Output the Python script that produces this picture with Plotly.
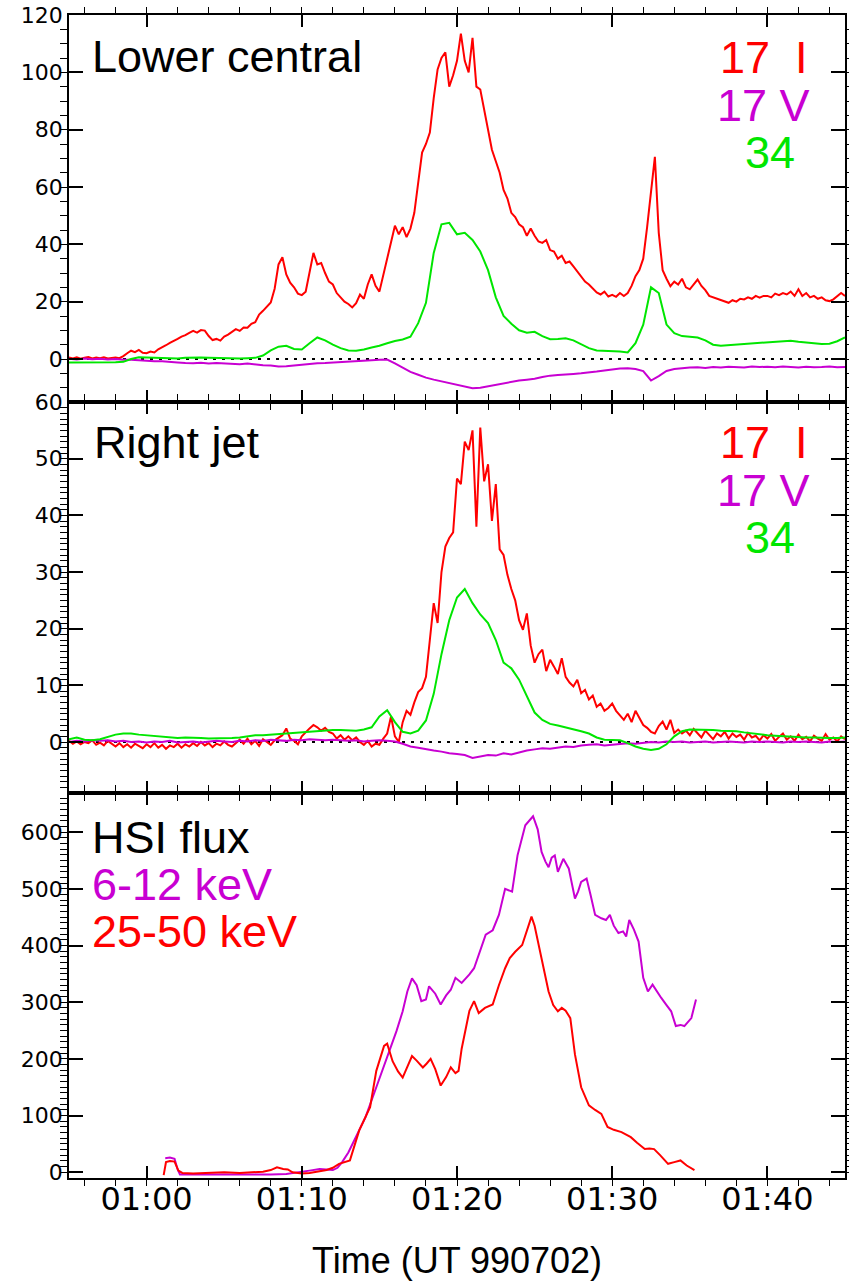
import numpy as np
import plotly.graph_objects as go

# ---------------- data ----------------
# sampling: minutes after 00:00 UT (01:00 = 60)
T0 = 55.0
DT_FINE = 0.25
DT_COARSE = 0.5

# Lower central, 17 GHz I (0.25 min sampling)
lc_17I = [
    0.5, 0.2, 0.6, 0.1, 0.4, 0.7, 0.2, 0.5,
    0.3, 0.6, 0.2, 0.4, 0.5, 0.3, 1.0, 2.0,
    2.9, 2.4, 3.2, 2.2, 2.0, 2.6, 2.3, 3.4,
    4.0, 4.8, 5.6, 6.2, 7.0, 7.8, 8.3, 9.1,
    9.8, 9.2, 10.1, 9.9, 8.0, 6.6, 7.0, 6.4,
    7.8, 8.5, 9.6, 10.4, 9.8, 11.0, 10.9, 12.3,
    12.8, 15.5, 16.8, 18.4, 19.7, 24.5, 33.0, 35.5,
    29.5, 26.6, 25.0, 22.8, 22.3, 23.5, 30.5, 37.0,
    33.0, 33.5, 30.0, 27.0, 26.0, 23.0, 21.5, 20.0,
    19.2, 18.0, 19.5, 22.5, 21.0, 26.0, 29.5, 25.5,
    23.5, 29.0, 34.5, 41.0, 46.5, 43.5, 46.0, 42.5,
    45.5, 51.0, 62.0, 72.0, 75.0, 79.0, 91.0, 101.0,
    105.0, 107.0, 95.0, 99.0, 104.0, 113.5, 104.0, 100.0,
    112.0, 95.0, 94.0, 87.0, 79.0, 73.0, 69.0, 65.0,
    59.0, 56.0, 51.0, 49.5, 47.0, 46.0, 43.0, 45.5,
    43.0, 41.0, 40.5, 41.5, 38.0, 37.5, 35.0, 36.0,
    33.5, 34.0, 32.3, 30.5, 29.0, 27.0, 26.0, 24.5,
    23.2, 22.5, 23.5, 21.8, 22.4, 21.7, 23.0, 22.0,
    23.0, 25.5, 28.9, 31.0, 35.0, 46.0, 58.0, 70.5,
    44.0, 31.0, 28.0, 25.4, 27.0, 26.0, 28.0, 25.0,
    24.3, 26.0, 27.7, 25.5, 24.0, 22.0, 21.5, 21.0,
    20.5, 20.0, 19.6, 20.5, 20.0, 21.0, 20.8, 21.5,
    21.0, 22.0, 21.4, 22.0, 22.0, 21.5, 22.8, 22.3,
    23.0, 22.5, 23.5, 22.0, 24.3, 22.0, 23.0, 21.5,
    22.0, 21.0, 21.5, 20.5, 20.2, 20.8, 22.0, 23.0,
    22.0,
]
# Lower central, 17 GHz V (0.5 min sampling)
lc_17V = [
    0.1, -0.2, 0.2, -0.1, 0.1, -0.2, 0.0, -0.3, -0.3, -0.5,
    -0.5, -0.8, -0.8, -1.1, -1.2, -1.4, -1.5, -1.3, -1.6, -1.4,
    -1.5, -1.7, -1.8, -1.6, -2.0, -2.2, -2.3, -2.6, -2.5, -2.2,
    -2.0, -1.8, -1.5, -1.4, -1.2, -1.0, -0.8, -0.7, -0.6, -0.4,
    -0.3, -0.2, -1.5, -3.0, -4.5, -5.5, -6.5, -7.2, -7.8, -8.3,
    -9.0, -9.6, -10.2, -10.0, -9.5, -8.9, -8.5, -8.0, -7.5, -7.2,
    -6.9, -6.3, -5.8, -5.6, -5.3, -5.2, -5.0, -4.8, -4.4, -4.0,
    -3.6, -3.3, -3.2, -3.5, -4.2, -7.5, -6.0, -4.2, -3.5, -3.2,
    -3.0, -2.9, -3.1, -2.8, -3.0, -2.7, -2.9, -3.0, -2.6, -2.8,
    -2.7, -2.9, -2.6, -2.8, -3.0, -2.7, -2.9, -2.8, -2.6, -2.9,
    -2.8,
]
# Lower central, 34 GHz (0.5 min sampling)
lc_34 = [
    -1.2, -1.2, -1.1, -1.2, -1.3, -1.2, -1.1, -1.0, 0.0, 0.6,
    0.5, 0.4, 0.3, 0.2, 0.2, 0.4, 0.5, 0.5, 0.4, 0.3,
    0.3, 0.2, 0.2, 0.3, 0.4, 1.2, 3.0, 4.3, 4.6, 3.5,
    3.3, 5.5, 7.5, 6.5, 5.0, 3.8, 3.0, 2.9, 3.3, 4.0,
    4.6, 5.5, 6.3, 6.8, 7.8, 12.5, 19.6, 37.0, 47.0, 47.5,
    43.5, 44.0, 41.5, 37.5, 31.0, 21.5, 15.0, 12.3, 10.0, 9.2,
    9.5, 8.0, 6.9, 7.0, 7.2, 6.5, 5.2, 3.8, 3.0, 2.9,
    2.8, 2.6, 2.3, 5.5, 12.0, 25.0, 23.0, 12.0, 9.0, 8.0,
    7.8, 7.5, 6.5, 5.0, 4.6, 4.8, 5.0, 5.2, 5.5, 5.6,
    5.8, 6.0, 6.2, 6.4, 6.0, 5.8, 5.5, 5.2, 5.3, 6.2,
    7.5,
]
# Right jet, 17 GHz I (0.25 min sampling)
rj_17I = [
    0.2, -0.3, 0.1, -0.4, 0.0, -0.2, 0.3, -0.5,
    -0.1, -0.6, 0.2, -0.3, -0.8, -0.2, -0.9, -0.4,
    -1.0, -0.3, -0.7, -1.1, -0.4, -0.9, -0.2, -1.0,
    -0.5, -1.2, -0.6, -0.9, -0.3, -1.0, -0.4, -0.8,
    -0.2, -0.7, 0.0, -0.6, -0.2, -0.9, -0.3, -0.6,
    0.1, -0.5, -0.8, -0.2, 0.4, -0.3, 0.6, -0.4,
    0.2, -0.7, 0.5, 0.0, -0.5, 0.3, 0.8, 1.2,
    2.4, 0.6, 0.2, -0.4, 1.0, 1.8, 2.4, 3.0,
    2.6, 2.0, 2.5, 1.8, 1.5, 0.6, 1.2, 0.4,
    1.0, 0.3, 0.8, 0.0, -0.5, 0.2, -0.8, -0.3,
    -0.5, 0.6, 1.5, 4.5, 1.0, 0.0, 3.5, 5.5,
    4.8, 7.0, 8.8, 9.5, 11.5, 18.0, 24.5, 21.0,
    30.0, 34.5, 36.0, 37.0, 46.5, 45.5, 53.0, 51.5,
    55.0, 38.0, 55.5, 46.0, 49.0, 39.0, 45.5, 34.0,
    33.0, 29.5, 27.0, 25.0, 21.5, 19.8, 22.7, 17.0,
    14.0, 15.5, 16.3, 12.5, 14.5, 13.3, 12.0, 14.8,
    11.5, 10.5, 9.8, 11.0, 8.6, 9.2, 7.5, 8.2,
    6.2, 6.8, 5.5, 6.0, 6.8, 5.5, 4.6, 3.9,
    5.0, 3.5, 5.5, 4.2, 3.0, 2.5, 1.8, 1.5,
    2.8, 3.6, 2.2, 3.9, 1.6, 2.2, 1.5, 2.0,
    1.2, 2.3, 1.6, 0.8, 2.0, 1.2, 0.5, 1.5,
    1.0, 1.8, 0.6, 1.5, 0.9, 1.3, 0.4, 1.6,
    0.8, 1.1, 0.3, 1.2, 0.6, 1.4, 0.2, 0.9,
    1.5, 0.4, 1.0, 0.2, 1.3, 0.5, 0.9, 0.1,
    1.1, 0.6, 0.2, 1.4, 0.4, 0.8, 0.1, 1.0,
    0.5,
]
# Right jet, 17 GHz V (0.5 min sampling)
rj_17V = [
    0.0, 0.2, 0.1, 0.3, 0.2, 0.3, 0.1, 0.2, 0.0, 0.1,
    -0.1, 0.1, 0.0, 0.2, -0.1, 0.0, 0.1, -0.1, 0.0, 0.2,
    0.1, 0.0, 0.2, 0.1, 0.3, 0.2, 0.4, 0.3, 0.2, 0.4,
    0.3, 0.5, 0.4, 0.3, 0.4, 0.3, 0.2, 0.3, 0.1, 0.2,
    0.3, 0.2, 0.1, -0.3, -0.8, -1.0, -1.3, -1.5, -1.7, -2.0,
    -2.1, -2.3, -2.8, -2.6, -2.3, -2.4, -2.0, -2.2, -1.8, -1.5,
    -1.3, -1.1, -1.2, -1.0, -0.8, -0.9, -0.6, -0.5, -0.4, -0.6,
    -0.5, -0.3, -0.2, -0.3, -0.1, 0.0, -0.1, 0.1, 0.0, 0.1,
    -0.1, 0.0, 0.1, -0.1, 0.0, 0.1, 0.0, -0.1, 0.1, 0.0,
    0.1, 0.0, -0.1, 0.1, 0.0, 0.1, 0.0, -0.1, 0.1, 0.0,
    0.1,
]
# Right jet, 34 GHz (0.5 min sampling)
rj_34 = [
    0.5, 0.8, 0.4, 0.3, 0.5, 0.9, 1.3, 1.5, 1.5, 1.3,
    1.2, 1.0, 0.9, 0.8, 0.7, 0.8, 0.8, 0.7, 0.6, 0.6,
    0.6, 0.7, 0.8, 1.0, 1.2, 1.2, 1.3, 1.4, 1.5, 1.6,
    1.8, 1.9, 2.0, 2.1, 2.1, 2.1, 2.0, 2.0, 2.2, 2.6,
    4.5, 5.6, 3.5, 1.8, 1.5, 2.0, 3.8, 8.5, 15.5, 21.5,
    25.5, 27.0, 24.5, 22.5, 21.0, 18.0, 14.0, 13.0, 11.0, 8.0,
    5.2, 3.9, 3.2, 2.9, 2.6, 2.3, 1.9, 1.5, 0.8, 0.4,
    0.4, 0.3, -0.2, -0.8, -1.2, -1.4, -1.2, -0.4, 1.0, 1.9,
    2.2, 2.2, 2.1, 2.1, 2.0, 2.0, 1.9, 1.7, 1.5, 1.3,
    1.2, 1.1, 1.0, 0.9, 0.9, 0.8, 0.8, 0.7, 0.7, 0.7,
    0.8,
]
# HSI flux 6-12 keV
hsi_lo_t = [61.2, 61.5, 61.8, 62.0, 62.15, 63.0, 64.0, 65.0, 66.0, 67.0,
            68.0, 69.0, 69.9, 70.5, 71.15, 72.0, 72.3, 72.6, 73.0, 73.5,
            74.1, 74.8, 75.4, 76.1, 76.5, 76.8, 77.1, 77.4, 77.7, 78.0,
            78.2, 78.6, 78.95, 79.3, 79.6, 79.9, 80.3, 80.8, 81.1, 81.4,
            81.85, 82.3, 82.7, 83.1, 83.55, 83.9, 84.4, 84.9, 85.2, 85.45,
            85.7, 85.9, 86.1, 86.3, 86.5, 86.85, 87.2, 87.6, 87.8, 88.0,
            88.35, 88.6, 88.9, 89.3, 89.6, 89.85, 90.1, 90.4, 90.7, 90.9,
            91.1, 91.4, 91.7, 92.0, 92.3, 92.6, 92.9, 93.15, 93.5, 93.8,
            94.1, 94.4, 94.65, 94.9, 95.1, 95.4]
hsi_lo = [25, 26, 24, 5, -4, -4, -5, -5, -4, -4,
          -4, -3, 0, 3, 6, 4, 8, 18, 35, 62,
          97, 150, 196, 249, 284, 319, 342, 330, 302, 305,
          328, 315, 296, 312, 322, 343, 334, 349, 360, 384,
          419, 427, 454, 500, 495, 559, 612, 628, 605, 565,
          548, 538, 555, 559, 530, 553, 536, 483, 495, 512,
          518, 490, 454, 448, 445, 454, 435, 422, 425, 416,
          445, 428, 407, 343, 319, 331, 318, 308, 295, 284,
          258, 260, 258, 265, 272, 305]
# HSI flux 25-50 keV
hsi_hi_t = [61.1, 61.25, 61.5, 61.8, 62.05, 62.3, 63.0, 64.0, 65.0, 66.0,
            67.0, 67.5, 68.0, 68.4, 68.8, 69.1, 69.4, 70.0, 70.5, 71.0,
            71.6, 72.0, 72.4, 73.1, 73.5, 73.7, 74.4, 74.8, 75.3, 75.5,
            75.85, 76.2, 76.5, 76.8, 77.1, 77.4, 77.8, 78.05, 78.3, 78.6,
            78.95, 79.3, 79.6, 79.9, 80.1, 80.3, 80.55, 80.8, 81.1, 81.4,
            81.8, 82.3, 82.7, 83.1, 83.4, 83.75, 84.2, 84.5, 84.8, 85.0,
            85.3, 85.6, 85.9, 86.2, 86.5, 86.75, 87.0, 87.3, 87.6, 88.0,
            88.5, 88.9, 89.3, 89.7, 90.1, 90.6, 91.2, 91.6, 92.1, 92.4,
            92.7, 93.1, 93.6, 94.0, 94.4, 94.8, 95.3]
hsi_hi = [-5, 18, 20, 19, 3, -1, -2, -1, 0, -1,
          0, 1, 4, 9, 6, 5, 0, -2, -1, 1,
          4, 8, 15, 21, 55, 74, 115, 179, 223, 227,
          196, 178, 167, 185, 205, 197, 185, 192, 200, 182,
          153, 168, 185, 175, 179, 218, 255, 285, 302, 281,
          290, 296, 330, 360, 378, 389, 401, 425, 451, 435,
          395, 355, 319, 295, 284, 290, 285, 272, 208, 150,
          118, 110, 103, 80, 75, 71, 62, 52, 41, 42,
          41, 30, 15, 18, 21, 12, 4]

x_tick_vals = [60, 70, 80, 90, 100]
x_tick_text = ["01:00", "01:10", "01:20", "01:30", "01:40"]
x_range = [55, 105]

# ---------------- styling ----------------
RED = "rgb(255,0,0)"
MAG = "rgb(200,0,210)"
GRN = "rgb(0,230,0)"
LW = 2

W, H = 849, 1281
ML, MR, MT, MB = 69, 2, 15, 103
PW = W - ML - MR
PH = H - MT - MB


def px(x):
    return (x - ML) / PW


def py(y):
    return (H - MB - y) / PH


d1 = [py(402), 1.0]
d2 = [py(793), py(402)]
d3 = [0.0, py(793)]


def tgrid(vals, dt):
    return T0 + dt * np.arange(len(vals))


fig = go.Figure()


def line(x, y, color, n, dash=None, width=LW):
    fig.add_trace(go.Scatter(
        x=x, y=y, mode="lines",
        line=dict(color=color, width=width, dash=dash),
        xaxis="x" if n == 1 else f"x{n}",
        yaxis="y" if n == 1 else f"y{n}",
        showlegend=False, hoverinfo="skip"))


# panel 1
line(x_range, [0, 0], "black", 1, dash="3px,6px", width=2)
line(tgrid(lc_17I, DT_FINE), lc_17I, RED, 1)
line(tgrid(lc_17V, DT_COARSE), lc_17V, MAG, 1)
line(tgrid(lc_34, DT_COARSE), lc_34, GRN, 1)
# panel 2
line(x_range, [0, 0], "black", 2, dash="3px,6px", width=2)
line(tgrid(rj_17I, DT_FINE), rj_17I, RED, 2)
line(tgrid(rj_17V, DT_COARSE), rj_17V, MAG, 2)
line(tgrid(rj_34, DT_COARSE), rj_34, GRN, 2)
# panel 3
line(hsi_lo_t, hsi_lo, MAG, 3)
line(hsi_hi_t, hsi_hi, RED, 3)

tick_font_y = dict(family="DejaVu Sans", size=22, color="black")
tick_font_x = dict(family="DejaVu Sans", size=32, color="black")


def xaxis(anchor, labels):
    return dict(
        domain=[0, 1], anchor=anchor, range=x_range,
        showline=True, linecolor="black", linewidth=1.8, mirror="allticks",
        ticks="inside", ticklen=12, tickwidth=1.5, tickcolor="black",
        tickmode="array", tickvals=x_tick_vals, ticktext=x_tick_text,
        showticklabels=labels, tickfont=tick_font_x, ticklabelstandoff=-8,
        showgrid=False, zeroline=False,
        minor=dict(tickmode="linear", tick0=0, dtick=2, ticklen=6,
                   tickwidth=1.2, tickcolor="black", showgrid=False),
    )


def yaxis(anchor, dom, rng, dtick, mdtick):
    return dict(
        domain=dom, anchor=anchor, range=rng,
        showline=True, linecolor="black", linewidth=1.8, mirror="allticks",
        ticks="inside", ticklen=14, tickwidth=1.5, tickcolor="black",
        tickmode="linear", tick0=0, dtick=dtick, tickfont=tick_font_y,
        showgrid=False, zeroline=False,
        minor=dict(tickmode="linear", tick0=0, dtick=mdtick, ticklen=7,
                   tickwidth=1.2, tickcolor="black", showgrid=False),
    )


LBL = "Liberation Sans"
FS = 45


def text(s, x, y, color, xanchor="left", size=FS):
    return dict(text=s, x=px(x), y=py(y), xref="paper", yref="paper",
                xanchor=xanchor, yanchor="middle", showarrow=False,
                borderpad=0,
                font=dict(family=LBL, size=size, color=color))


NB = "\u00a0"
annotations = [
    text("Lower central", 91, 57, "black"),
    text("17" + NB + NB + "I", 811, 58, RED, "right"),
    text("17 V", 813, 105, MAG, "right"),
    text("34", 772, 152, GRN, "center"),
    text("Right jet", 93, 442, "black"),
    text("17" + NB + NB + "I", 811, 442, RED, "right"),
    text("17 V", 813, 490, MAG, "right"),
    text("34", 772, 537, GRN, "center"),
    text("HSI flux", 91, 838, "black"),
    text("6-12 keV", 91, 884, MAG),
    text("25-50 keV", 91, 931, RED),
    text("Time (UT 990702)", 458, 1260, "black", "center", size=36),
]

fig.update_layout(
    width=W, height=H,
    margin=dict(l=ML, r=MR, t=MT, b=MB, pad=0),
    paper_bgcolor="white", plot_bgcolor="white",
    xaxis=xaxis("y", False),
    xaxis2=xaxis("y2", False),
    xaxis3=xaxis("y3", True),
    yaxis=yaxis("x", d1, [-15, 120], 20, 5),
    yaxis2=yaxis("x2", d2, [-9, 60], 10, 1),
    yaxis3=yaxis("x3", d3, [-10, 669], 100, 10),
    annotations=annotations,
    showlegend=False,
)

fig.write_html(
    "out.html",
    config={"displayModeBar": False},
    post_script="document.body.style.margin='0';document.body.style.padding='0';",
)
